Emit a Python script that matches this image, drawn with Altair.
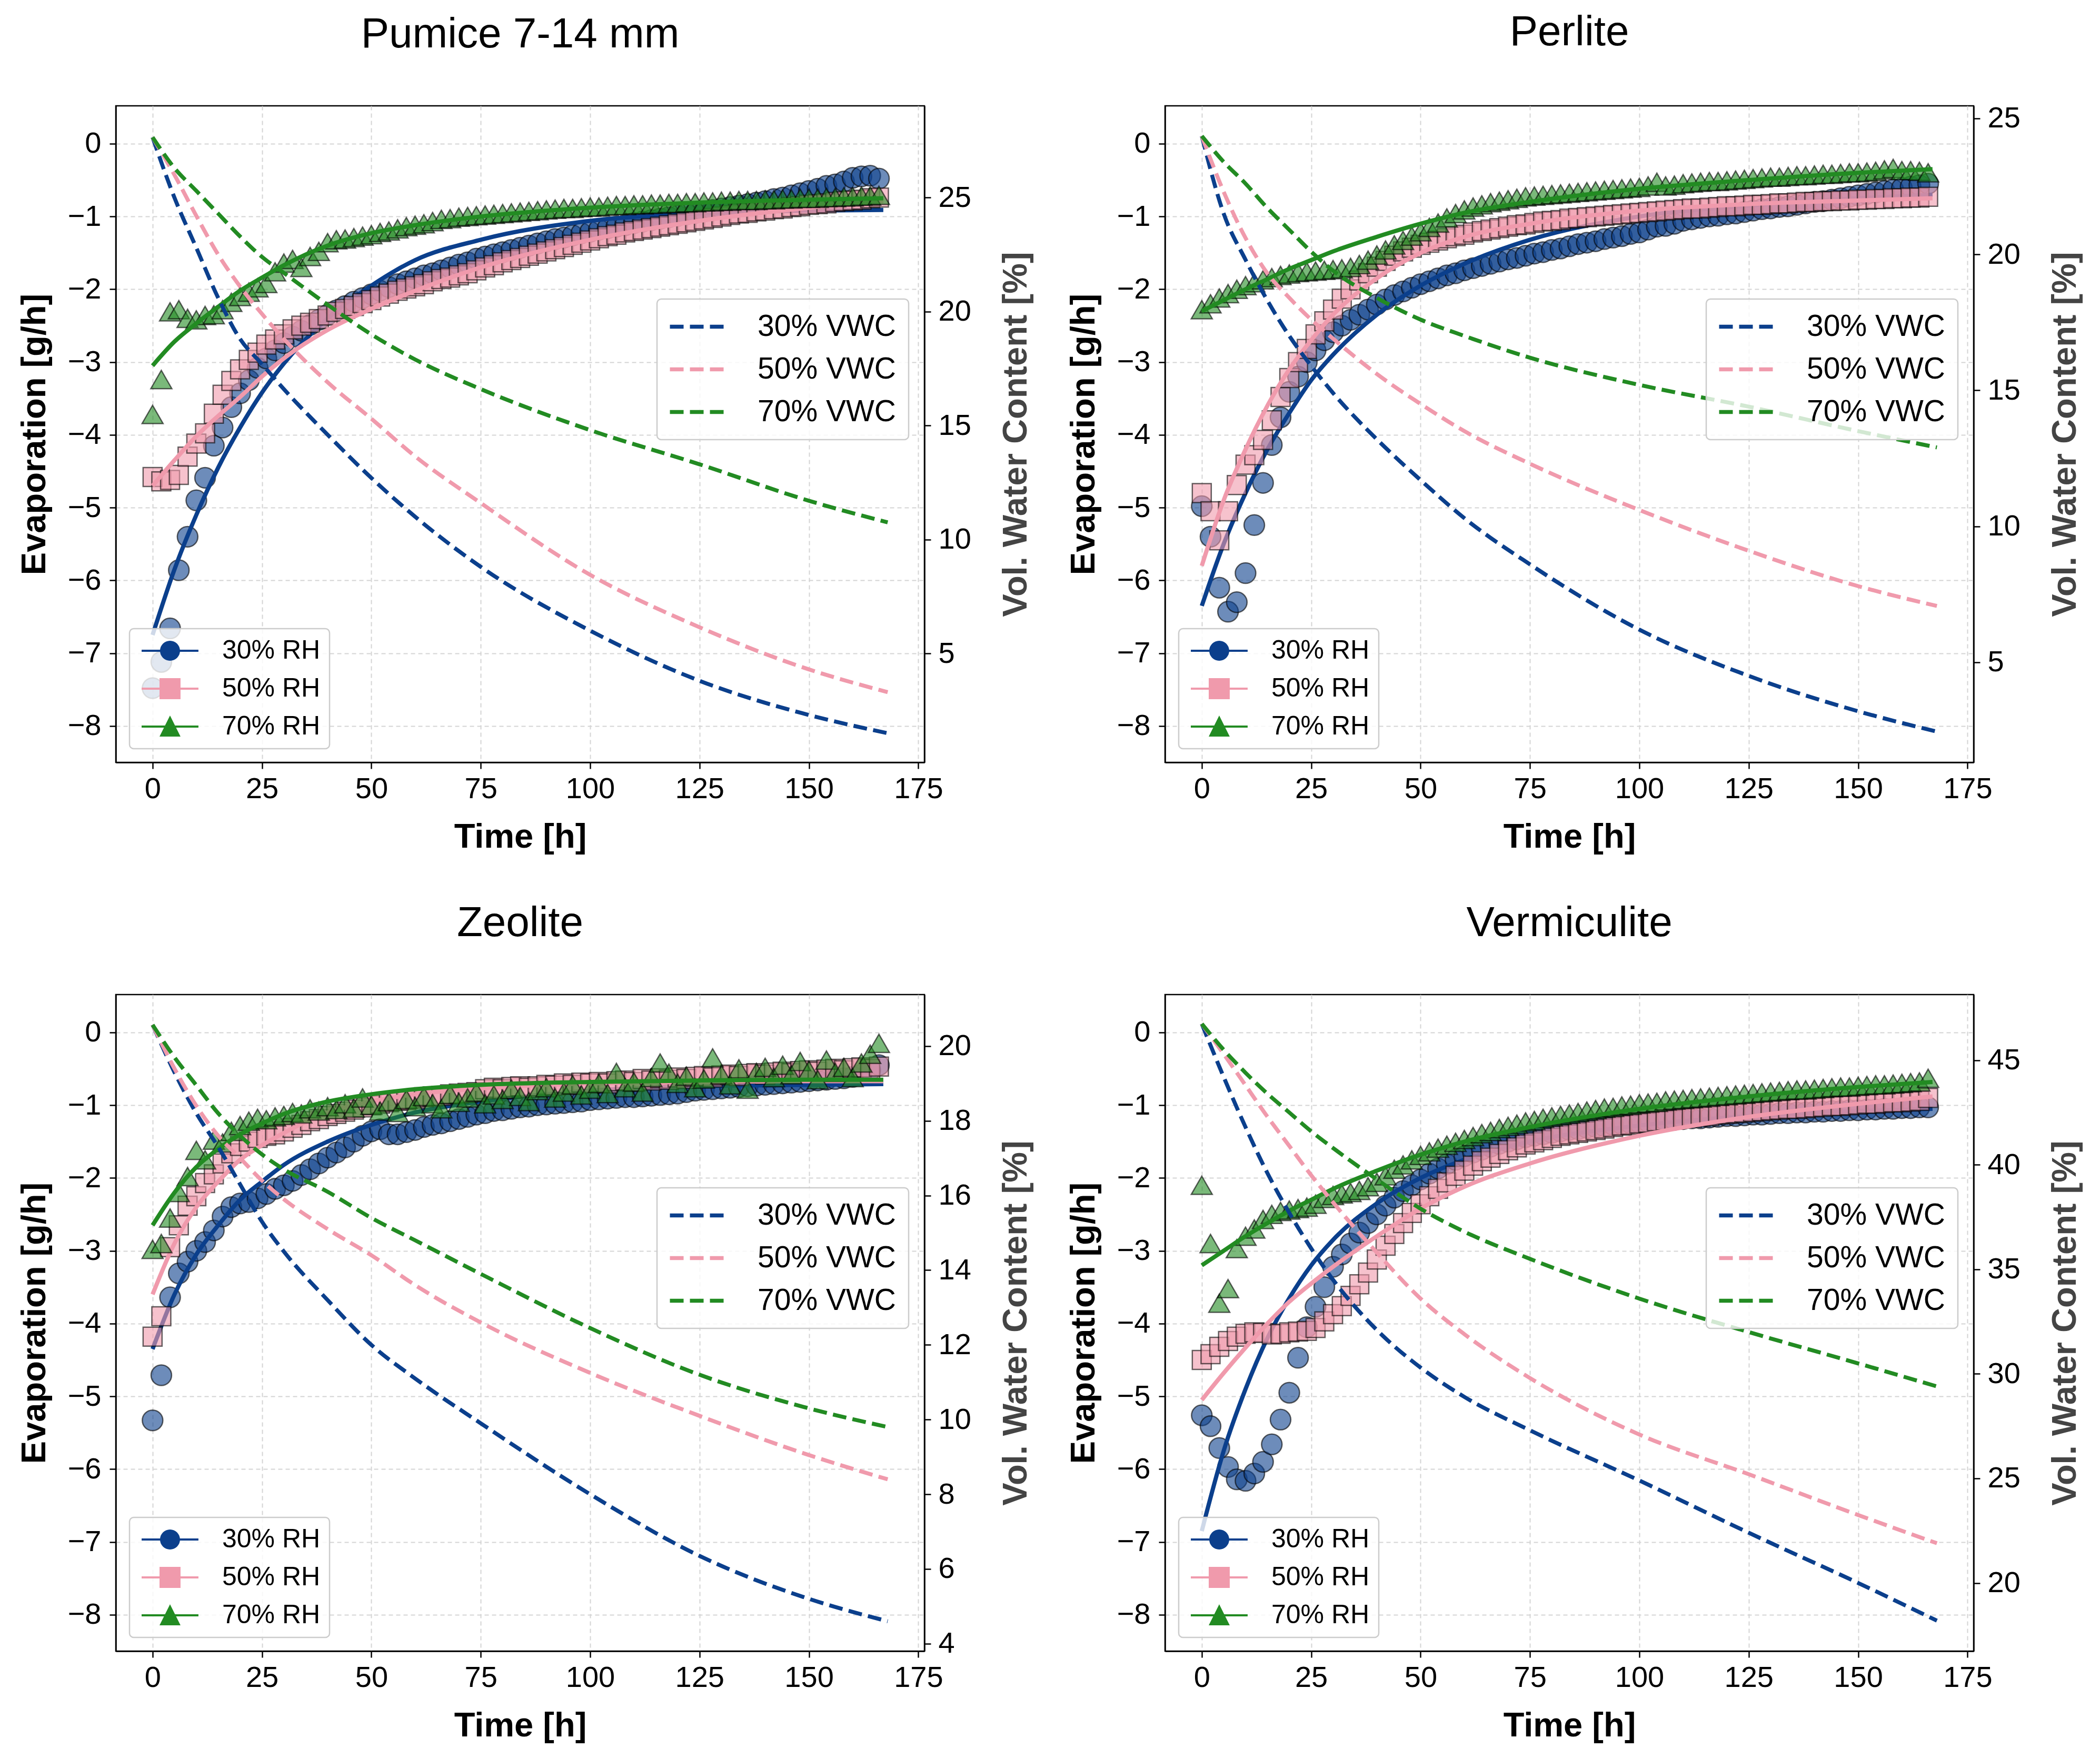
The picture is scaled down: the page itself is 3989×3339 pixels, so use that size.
import altair as alt
import pandas as pd

# sampling times (h)
TIME = [0, 2, 4, 6, 8, 10, 12, 14, 16, 18, 20, 22, 24, 26, 28, 30, 32, 34, 36, 38,
        40, 42, 44, 46, 48, 50, 52, 54, 56, 58, 60, 62, 64, 66, 68, 70, 72, 74, 76, 78,
        80, 82, 84, 86, 88, 90, 92, 94, 96, 98, 100, 102, 104, 106, 108, 110, 112, 114, 116, 118,
        120, 122, 124, 126, 128, 130, 132, 134, 136, 138, 140, 142, 144, 146, 148, 150, 152, 154, 156, 158,
        160, 162, 164, 166]
FIT_T = [0, 5, 10, 15, 20, 25, 30, 40, 50, 60, 75, 100, 125, 150, 167]
VWC_T = [0, 5, 10, 15, 20, 25, 30, 40, 50, 60, 75, 100, 125, 150, 168]

RH_LABELS = ["30% RH", "50% RH", "70% RH"]
VWC_LABELS = ["30% VWC", "50% VWC", "70% VWC"]
COLORS = ["#0b3f8c", "#f09aac", "#228b22"]

# ---------------- Pumice 7-14 mm ----------------
PUMICE_EVAP_30 = [-7.48, -7.12, -6.66, -5.86, -5.40, -4.90, -4.59, -4.15, -3.90, -3.62,
                  -3.43, -3.25, -3.08, -2.95, -2.84, -2.74, -2.65, -2.57, -2.49, -2.42,
                  -2.35, -2.29, -2.23, -2.17, -2.12, -2.07, -2.02, -1.97, -1.93, -1.89,
                  -1.85, -1.81, -1.78, -1.74, -1.70, -1.66, -1.63, -1.58, -1.55, -1.52,
                  -1.49, -1.46, -1.43, -1.40, -1.37, -1.34, -1.31, -1.29, -1.26, -1.23,
                  -1.21, -1.18, -1.16, -1.14, -1.12, -1.09, -1.07, -1.05, -1.03, -1.01,
                  -0.99, -0.97, -0.95, -0.93, -0.91, -0.89, -0.87, -0.85, -0.83, -0.81,
                  -0.79, -0.76, -0.74, -0.71, -0.68, -0.65, -0.62, -0.58, -0.56, -0.52,
                  -0.47, -0.45, -0.44, -0.48]
PUMICE_EVAP_50 = [-4.58, -4.64, -4.62, -4.55, -4.30, -4.12, -3.98, -3.71, -3.45, -3.26,
                  -3.10, -2.97, -2.87, -2.76, -2.69, -2.62, -2.55, -2.50, -2.46, -2.41,
                  -2.36, -2.31, -2.27, -2.23, -2.19, -2.15, -2.10, -2.06, -2.02, -1.99,
                  -1.96, -1.93, -1.89, -1.86, -1.84, -1.81, -1.78, -1.74, -1.70, -1.67,
                  -1.63, -1.60, -1.57, -1.54, -1.51, -1.48, -1.45, -1.42, -1.39, -1.36,
                  -1.33, -1.30, -1.27, -1.25, -1.22, -1.20, -1.18, -1.16, -1.14, -1.12,
                  -1.10, -1.08, -1.06, -1.04, -1.02, -1.00, -0.98, -0.96, -0.95, -0.93,
                  -0.92, -0.90, -0.89, -0.87, -0.86, -0.84, -0.83, -0.82, -0.80, -0.79,
                  -0.78, -0.77, -0.75, -0.74]
PUMICE_EVAP_70 = [-3.72, -3.24, -2.31, -2.28, -2.40, -2.42, -2.36, -2.35, -2.28, -2.18,
                  -2.10, -2.04, -1.98, -1.92, -1.76, -1.64, -1.59, -1.70, -1.55, -1.48,
                  -1.36, -1.32, -1.31, -1.29, -1.27, -1.25, -1.22, -1.20, -1.17, -1.14,
                  -1.12, -1.10, -1.07, -1.04, -1.03, -1.01, -1.00, -0.99, -0.98, -0.97,
                  -0.96, -0.95, -0.94, -0.93, -0.92, -0.91, -0.90, -0.89, -0.89, -0.88,
                  -0.87, -0.87, -0.86, -0.85, -0.85, -0.84, -0.84, -0.83, -0.83, -0.82,
                  -0.82, -0.81, -0.81, -0.80, -0.80, -0.79, -0.79, -0.78, -0.78, -0.78,
                  -0.77, -0.77, -0.76, -0.76, -0.75, -0.75, -0.75, -0.74, -0.74, -0.73,
                  -0.73, -0.72, -0.72, -0.71]
PUMICE_FIT_30 = [-6.75, -5.85, -5.10, -4.45, -3.90, -3.42, -3.02, -2.40, -1.95, -1.60, -1.32, -1.06, -0.96, -0.92, -0.91]
PUMICE_FIT_50 = [-4.70, -4.35, -4.02, -3.74, -3.48, -3.20, -2.95, -2.56, -2.27, -2.02, -1.70, -1.32, -1.06, -0.88, -0.79]
PUMICE_FIT_70 = [-3.05, -2.72, -2.47, -2.24, -2.02, -1.84, -1.67, -1.40, -1.23, -1.12, -1.00, -0.88, -0.81, -0.77, -0.75]
PUMICE_VWC_30 = [27.65, 25.0, 22.8, 20.6, 18.8, 17.7, 16.6, 14.6, 12.7, 11.0, 8.8, 6.0, 3.8, 2.3, 1.5]
PUMICE_VWC_50 = [27.65, 26.0, 24.2, 22.5, 21.1, 19.9, 18.8, 16.9, 15.3, 13.65, 11.6, 8.45, 6.15, 4.3, 3.3]
PUMICE_VWC_70 = [27.65, 26.3, 25.3, 24.3, 23.3, 22.4, 21.7, 20.3, 19.0, 17.9, 16.6, 14.8, 13.3, 11.7, 10.75]

# ---------------- Perlite ----------------
PERLITE_EVAP_30 = [-4.98, -5.40, -6.10, -6.43, -6.30, -5.90, -5.24, -4.66, -4.14, -3.76,
                   -3.41, -3.20, -3.00, -2.84, -2.70, -2.59, -2.50, -2.42, -2.35, -2.28,
                   -2.21, -2.14, -2.08, -2.03, -1.98, -1.93, -1.89, -1.85, -1.81, -1.78,
                   -1.74, -1.71, -1.68, -1.65, -1.62, -1.59, -1.57, -1.54, -1.51, -1.49,
                   -1.46, -1.44, -1.41, -1.38, -1.36, -1.34, -1.31, -1.29, -1.27, -1.24,
                   -1.22, -1.18, -1.14, -1.13, -1.10, -1.06, -1.04, -1.02, -1.00, -0.99,
                   -0.97, -0.96, -0.94, -0.92, -0.90, -0.89, -0.87, -0.86, -0.84, -0.82,
                   -0.80, -0.79, -0.77, -0.75, -0.73, -0.71, -0.69, -0.67, -0.65, -0.63,
                   -0.61, -0.59, -0.57, -0.55]
PERLITE_EVAP_50 = [-4.80, -5.05, -5.45, -5.05, -4.69, -4.41, -4.28, -4.07, -3.80, -3.48,
                   -3.22, -3.00, -2.82, -2.62, -2.44, -2.28, -2.13, -2.00, -1.88, -1.78,
                   -1.69, -1.61, -1.54, -1.48, -1.43, -1.39, -1.36, -1.33, -1.30, -1.27,
                   -1.25, -1.22, -1.20, -1.18, -1.16, -1.14, -1.12, -1.11, -1.09, -1.07,
                   -1.06, -1.05, -1.03, -1.02, -1.01, -1.00, -0.99, -0.98, -0.97, -0.96,
                   -0.95, -0.94, -0.93, -0.92, -0.91, -0.90, -0.89, -0.89, -0.88, -0.87,
                   -0.86, -0.86, -0.85, -0.84, -0.84, -0.83, -0.82, -0.82, -0.81, -0.80,
                   -0.80, -0.79, -0.79, -0.78, -0.78, -0.77, -0.77, -0.76, -0.76, -0.75,
                   -0.75, -0.74, -0.74, -0.73]
PERLITE_EVAP_70 = [-2.28, -2.20, -2.12, -2.06, -2.00, -1.95, -1.91, -1.87, -1.84, -1.81,
                   -1.79, -1.77, -1.76, -1.75, -1.74, -1.73, -1.72, -1.70, -1.66, -1.60,
                   -1.53, -1.46, -1.39, -1.33, -1.27, -1.21, -1.15, -1.09, -1.02, -0.96,
                   -0.91, -0.87, -0.84, -0.81, -0.79, -0.77, -0.75, -0.73, -0.72, -0.71,
                   -0.70, -0.69, -0.68, -0.67, -0.66, -0.65, -0.64, -0.63, -0.62, -0.61,
                   -0.60, -0.58, -0.53, -0.58, -0.57, -0.55, -0.54, -0.53, -0.52, -0.52,
                   -0.51, -0.50, -0.49, -0.48, -0.47, -0.46, -0.46, -0.45, -0.44, -0.44,
                   -0.43, -0.42, -0.42, -0.41, -0.40, -0.40, -0.39, -0.38, -0.36, -0.34,
                   -0.37, -0.37, -0.38, -0.40]
PERLITE_FIT_30 = [-6.35, -5.50, -4.80, -4.20, -3.70, -3.25, -2.90, -2.35, -1.95, -1.65, -1.32, -1.00, -0.85, -0.75, -0.70]
PERLITE_FIT_50 = [-5.80, -4.90, -4.20, -3.60, -3.10, -2.70, -2.35, -1.85, -1.50, -1.28, -1.10, -0.92, -0.83, -0.78, -0.75]
PERLITE_FIT_70 = [-2.30, -2.15, -2.00, -1.86, -1.72, -1.60, -1.48, -1.28, -1.10, -0.95, -0.80, -0.62, -0.50, -0.40, -0.35]
PERLITE_VWC_30 = [24.35, 21.5, 19.8, 18.3, 17.0, 15.9, 14.9, 13.2, 11.7, 10.3, 8.6, 6.2, 4.5, 3.2, 2.45]
PERLITE_VWC_50 = [24.35, 22.3, 20.6, 19.3, 18.4, 17.6, 16.9, 15.6, 14.5, 13.5, 12.3, 10.6, 9.1, 7.8, 7.07]
PERLITE_VWC_70 = [24.35, 23.4, 22.6, 21.7, 20.9, 20.1, 19.4, 18.4, 17.6, 17.0, 16.2, 15.2, 14.4, 13.5, 12.9]

# ---------------- Zeolite ----------------
ZEOLITE_EVAP_30 = [-5.33, -4.71, -3.64, -3.31, -3.15, -3.00, -2.88, -2.72, -2.53, -2.40,
                   -2.35, -2.33, -2.28, -2.22, -2.15, -2.10, -2.04, -1.96, -1.88, -1.80,
                   -1.72, -1.65, -1.58, -1.50, -1.42, -1.36, -1.33, -1.40, -1.40, -1.37,
                   -1.34, -1.30, -1.27, -1.25, -1.22, -1.19, -1.16, -1.13, -1.11, -1.08,
                   -1.07, -1.05, -1.03, -1.02, -1.00, -0.99, -0.98, -0.97, -0.96, -0.95,
                   -0.93, -0.92, -0.91, -0.90, -0.89, -0.89, -0.88, -0.87, -0.86, -0.85,
                   -0.84, -0.82, -0.80, -0.79, -0.78, -0.77, -0.76, -0.75, -0.74, -0.73,
                   -0.72, -0.71, -0.70, -0.69, -0.68, -0.67, -0.66, -0.65, -0.64, -0.63,
                   -0.61, -0.58, -0.52, -0.45]
ZEOLITE_EVAP_50 = [-4.18, -3.90, -2.95, -2.65, -2.38, -2.25, -2.07, -1.95, -1.80, -1.66,
                   -1.56, -1.50, -1.45, -1.42, -1.40, -1.36, -1.31, -1.27, -1.22, -1.19,
                   -1.15, -1.12, -1.09, -1.06, -1.03, -1.00, -0.98, -0.96, -0.94, -0.93,
                   -0.91, -0.89, -0.88, -0.87, -0.85, -0.84, -0.83, -0.82, -0.78, -0.76,
                   -0.78, -0.75, -0.74, -0.76, -0.74, -0.72, -0.73, -0.70, -0.72, -0.69,
                   -0.70, -0.68, -0.70, -0.67, -0.66, -0.68, -0.64, -0.66, -0.63, -0.65,
                   -0.62, -0.64, -0.61, -0.60, -0.62, -0.59, -0.58, -0.60, -0.57, -0.56,
                   -0.58, -0.55, -0.54, -0.56, -0.53, -0.52, -0.54, -0.51, -0.50, -0.52,
                   -0.49, -0.48, -0.50, -0.47]
ZEOLITE_EVAP_70 = [-2.98, -2.90, -2.55, -2.20, -1.98, -1.62, -1.75, -1.48, -1.52, -1.36,
                   -1.28, -1.22, -1.18, -1.20, -1.16, -1.14, -1.10, -1.12, -1.05, -1.08,
                   -1.02, -1.06, -0.98, -1.04, -0.90, -1.00, -1.08, -0.95, -1.10, -0.92,
                   -1.02, -0.88, -0.98, -1.05, -0.85, -0.96, -0.90, -0.82, -0.98, -0.86,
                   -0.92, -0.78, -0.88, -0.95, -0.80, -0.76, -0.90, -0.82, -0.72, -0.86,
                   -0.78, -0.70, -0.84, -0.55, -0.76, -0.68, -0.82, -0.62, -0.42, -0.56,
                   -0.70, -0.60, -0.76, -0.64, -0.35, -0.58, -0.72, -0.50, -0.78, -0.55,
                   -0.48, -0.62, -0.45, -0.58, -0.40, -0.52, -0.65, -0.38, -0.55, -0.48,
                   -0.62, -0.42, -0.30, -0.15]
ZEOLITE_FIT_30 = [-4.35, -3.60, -3.05, -2.65, -2.30, -2.05, -1.82, -1.50, -1.27, -1.10, -0.95, -0.80, -0.74, -0.72, -0.71]
ZEOLITE_FIT_50 = [-3.60, -2.90, -2.40, -2.05, -1.75, -1.55, -1.38, -1.10, -0.95, -0.85, -0.77, -0.70, -0.68, -0.67, -0.67]
ZEOLITE_FIT_70 = [-2.65, -2.20, -1.85, -1.60, -1.40, -1.25, -1.12, -0.95, -0.85, -0.78, -0.72, -0.68, -0.66, -0.65, -0.65]
ZEOLITE_VWC_30 = [20.57, 19.3, 18.2, 17.3, 16.3, 15.3, 14.5, 13.2, 12.0, 11.1, 9.9, 8.0, 6.35, 5.2, 4.6]
ZEOLITE_VWC_50 = [20.57, 19.4, 18.4, 17.6, 17.0, 16.4, 15.9, 15.1, 14.4, 13.6, 12.6, 11.25, 10.1, 9.05, 8.4]
ZEOLITE_VWC_70 = [20.57, 19.7, 18.95, 18.2, 17.6, 17.1, 16.7, 16.1, 15.4, 14.8, 13.9, 12.45, 11.2, 10.3, 9.8]

# ---------------- Vermiculite ----------------
VERMIC_EVAP_30 = [-5.26, -5.41, -5.71, -5.97, -6.14, -6.16, -6.06, -5.90, -5.66, -5.32,
                  -4.95, -4.47, -4.05, -3.77, -3.50, -3.22, -3.05, -2.90, -2.75, -2.62,
                  -2.50, -2.38, -2.27, -2.18, -2.10, -2.02, -1.94, -1.87, -1.81, -1.75,
                  -1.70, -1.65, -1.61, -1.57, -1.53, -1.50, -1.47, -1.44, -1.42, -1.40,
                  -1.38, -1.36, -1.34, -1.33, -1.31, -1.30, -1.29, -1.27, -1.26, -1.25,
                  -1.24, -1.23, -1.22, -1.21, -1.20, -1.19, -1.18, -1.18, -1.17, -1.16,
                  -1.15, -1.15, -1.14, -1.13, -1.13, -1.12, -1.11, -1.11, -1.10, -1.10,
                  -1.09, -1.09, -1.08, -1.08, -1.07, -1.07, -1.06, -1.06, -1.05, -1.05,
                  -1.04, -1.04, -1.03, -1.03]
VERMIC_EVAP_50 = [-4.50, -4.42, -4.32, -4.24, -4.18, -4.14, -4.12, -4.13, -4.15, -4.14,
                  -4.12, -4.11, -4.10, -4.06, -3.97, -3.87, -3.76, -3.62, -3.46, -3.30,
                  -3.12, -2.93, -2.77, -2.62, -2.48, -2.36, -2.25, -2.15, -2.06, -1.97,
                  -1.90, -1.83, -1.77, -1.72, -1.67, -1.62, -1.58, -1.54, -1.51, -1.48,
                  -1.45, -1.42, -1.40, -1.38, -1.36, -1.34, -1.32, -1.30, -1.28, -1.27,
                  -1.25, -1.24, -1.22, -1.21, -1.20, -1.18, -1.17, -1.16, -1.15, -1.13,
                  -1.12, -1.11, -1.10, -1.09, -1.08, -1.07, -1.06, -1.05, -1.05, -1.04,
                  -1.03, -1.02, -1.01, -1.01, -1.00, -0.99, -0.98, -0.98, -0.97, -0.96,
                  -0.96, -0.95, -0.94, -0.90]
VERMIC_EVAP_70 = [-2.10, -2.90, -3.72, -3.52, -2.97, -2.80, -2.70, -2.57, -2.50, -2.46,
                  -2.44, -2.42, -2.40, -2.36, -2.28, -2.24, -2.22, -2.20, -2.17, -2.12,
                  -2.06, -1.97, -1.88, -1.82, -1.75, -1.69, -1.64, -1.59, -1.55, -1.51,
                  -1.47, -1.43, -1.39, -1.36, -1.32, -1.29, -1.26, -1.23, -1.21, -1.18,
                  -1.16, -1.14, -1.12, -1.10, -1.08, -1.06, -1.04, -1.03, -1.01, -1.00,
                  -0.98, -0.97, -0.96, -0.94, -0.93, -0.92, -0.91, -0.90, -0.89, -0.88,
                  -0.87, -0.86, -0.85, -0.84, -0.83, -0.82, -0.81, -0.80, -0.79, -0.79,
                  -0.78, -0.77, -0.76, -0.75, -0.75, -0.74, -0.73, -0.72, -0.72, -0.71,
                  -0.70, -0.69, -0.68, -0.63]
VERMIC_FIT_30 = [-6.85, -5.75, -4.90, -4.20, -3.65, -3.20, -2.85, -2.35, -2.00, -1.75, -1.50, -1.28, -1.15, -1.08, -1.05]
VERMIC_FIT_50 = [-5.05, -4.68, -4.33, -4.00, -3.70, -3.45, -3.22, -2.80, -2.42, -2.12, -1.80, -1.42, -1.16, -0.98, -0.88]
VERMIC_FIT_70 = [-3.20, -3.00, -2.80, -2.62, -2.45, -2.30, -2.15, -1.90, -1.68, -1.50, -1.30, -1.05, -0.88, -0.75, -0.68]
VERMIC_VWC_30 = [46.74, 44.2, 41.8, 39.6, 37.7, 36.0, 34.5, 32.1, 30.3, 28.9, 27.3, 24.9, 22.4, 20.0, 18.2]
VERMIC_VWC_50 = [46.74, 45.3, 43.8, 42.3, 40.9, 39.5, 38.2, 35.8, 33.6, 31.9, 29.8, 27.1, 25.2, 23.25, 21.9]
VERMIC_VWC_70 = [46.74, 45.5, 44.4, 43.4, 42.5, 41.6, 40.8, 39.3, 37.9, 36.8, 35.5, 33.6, 32.0, 30.5, 29.4]

X_TICKS = [0, 25, 50, 75, 100, 125, 150, 175]
EVAP_TICKS = [-8, -7, -6, -5, -4, -3, -2, -1, 0]

# legend glyphs: line with the marker on it (unit = half the symbol size)
BAR = "M-1,-0.105H4.68V0.105H-1Z "
RH_PATHS = [BAR + "M2.84,0A1,1 0 1,1 0.84,0A1,1 0 1,1 2.84,0Z",
            BAR + "M0.79,-1.05H2.89V1.05H0.79Z",
            BAR + "M1.84,-1.1L2.89,1.0L0.79,1.0Z"]
VWC_PATH = "M-2.8,0H7.4"

MARKERS = ["circle", "square", "triangle-up"]
MARKER_SIZE = [1521, 1296, 1600]
DASH = [26, 12]

W, H = 1536, 1247
FONT = "Liberation Sans"

tick_style = dict(labelFontSize=56, labelColor="black", tickColor="black", tickWidth=2.5, tickSize=12,
                  domainColor="black", domainWidth=2.5, titleFontSize=65, titleFontWeight="bold",
                  labelFlush=False)
grid_style = dict(grid=True, gridColor="#d4d4d4", gridDash=[8, 6], gridWidth=2)

x_axis = alt.Axis(values=X_TICKS, title="Time [h]", labelPadding=11, titlePadding=32,
                  titleColor="black", **tick_style, **grid_style)
left_axis = alt.Axis(values=EVAP_TICKS, title="Evaporation [g/h]", labelPadding=16, titlePadding=29,
                     titleColor="black", **tick_style, **grid_style)

legend_box = dict(fillColor="rgba(255,255,255,0.8)", strokeColor="#cccccc", cornerRadius=8,
                  labelColor="black", labelLimit=1000)
rh_legend = alt.Legend(title=None, orient="bottom-left", offset=26, padding=17, labelFontSize=50,
                       labelOffset=109, rowPadding=22, symbolSize=1444, symbolStrokeWidth=0,
                       **legend_box)
vwc_legend = alt.Legend(title=None, orient="none", legendX=1028, legendY=367, padding=24,
                        labelFontSize=57, labelOffset=110, rowPadding=23, symbolType=VWC_PATH,
                        symbolSize=400, symbolStrokeWidth=7.5, symbolDash=DASH, **legend_box)


def panel(name, evap, fits, vwc, vwc_domain, vwc_ticks):
    x = alt.X("t:Q", scale=alt.Scale(domain=[-8.4, 176.4], nice=False, zero=False), axis=x_axis)
    y = alt.Y("e:Q", scale=alt.Scale(domain=[-8.5, 0.52], nice=False, zero=False), axis=left_axis)

    layers = []
    for i in range(3):
        pts = pd.DataFrame({"t": TIME, "e": evap[i]})
        layers.append(alt.Chart(pts).mark_point(
            shape=MARKERS[i], size=MARKER_SIZE[i], filled=True, fill=COLORS[i], fillOpacity=0.6,
            stroke="black", strokeOpacity=0.6, strokeWidth=2.5, opacity=1
        ).encode(x=x, y=y))
        fit = pd.DataFrame({"t": FIT_T, "e": fits[i]})
        layers.append(alt.Chart(fit).mark_line(
            color=COLORS[i], strokeWidth=8, interpolate="monotone"
        ).encode(x=x, y=y))

    # legend only (no rows): RH colours + marker glyphs
    layers.append(alt.Chart(alt.Data(values=[])).mark_point(
        filled=True, size=1444, opacity=1, strokeWidth=0
    ).encode(
        color=alt.Color("rh:N", scale=alt.Scale(domain=RH_LABELS, range=COLORS), legend=rh_legend),
        shape=alt.Shape("rh:N", scale=alt.Scale(domain=RH_LABELS, range=RH_PATHS), legend=rh_legend),
    ))
    left = alt.layer(*layers)

    vdf = pd.DataFrame({
        "t": VWC_T * 3,
        "v": vwc[0] + vwc[1] + vwc[2],
        "s": [lab for lab in VWC_LABELS for _ in VWC_T],
    })
    right_axis = alt.Axis(values=vwc_ticks, orient="right", title="Vol. Water Content [%]",
                          labelPadding=14, titlePadding=54, titleColor="#444444", titleAngle=270,
                          titleBaseline="top", grid=False, **tick_style)
    right = alt.Chart(vdf).mark_line(strokeDash=DASH, strokeWidth=7.5, interpolate="monotone").encode(
        x=x,
        y=alt.Y("v:Q", scale=alt.Scale(domain=vwc_domain, nice=False, zero=False), axis=right_axis),
        stroke=alt.Stroke("s:N", scale=alt.Scale(domain=VWC_LABELS, range=COLORS), legend=vwc_legend),
    )

    return alt.layer(left, right).resolve_scale(y="independent").properties(
        width=W, height=H,
        title=alt.TitleParams(name, fontSize=80, fontWeight="normal", offset=94, anchor="middle",
                              frame="group", color="black"),
    )


p1 = panel("Pumice 7-14 mm",
           [PUMICE_EVAP_30, PUMICE_EVAP_50, PUMICE_EVAP_70],
           [PUMICE_FIT_30, PUMICE_FIT_50, PUMICE_FIT_70],
           [PUMICE_VWC_30, PUMICE_VWC_50, PUMICE_VWC_70],
           [0.22, 29.03], [5, 10, 15, 20, 25])
p2 = panel("Perlite",
           [PERLITE_EVAP_30, PERLITE_EVAP_50, PERLITE_EVAP_70],
           [PERLITE_FIT_30, PERLITE_FIT_50, PERLITE_FIT_70],
           [PERLITE_VWC_30, PERLITE_VWC_50, PERLITE_VWC_70],
           [1.32, 25.46], [5, 10, 15, 20, 25])
p3 = panel("Zeolite",
           [ZEOLITE_EVAP_30, ZEOLITE_EVAP_50, ZEOLITE_EVAP_70],
           [ZEOLITE_FIT_30, ZEOLITE_FIT_50, ZEOLITE_FIT_70],
           [ZEOLITE_VWC_30, ZEOLITE_VWC_50, ZEOLITE_VWC_70],
           [3.80, 21.38], [4, 6, 8, 10, 12, 14, 16, 18, 20])
p4 = panel("Vermiculite",
           [VERMIC_EVAP_30, VERMIC_EVAP_50, VERMIC_EVAP_70],
           [VERMIC_FIT_30, VERMIC_FIT_50, VERMIC_FIT_70],
           [VERMIC_VWC_30, VERMIC_VWC_50, VERMIC_VWC_70],
           [16.74, 48.14], [20, 25, 30, 35, 40, 45])

chart = alt.concat(p1, p2, p3, p4, columns=2, spacing={"row": 88, "column": 60}).resolve_scale(
    color="independent", shape="independent", stroke="independent"
).properties(
    padding={"left": 23, "top": 12, "right": 10, "bottom": 10},
    background="white",
).configure(font=FONT).configure_view(stroke="black", strokeWidth=2.5).configure_legend(strokeWidth=2.5)

chart.save("out.html", embed_options={"renderer": "svg", "actions": False})
